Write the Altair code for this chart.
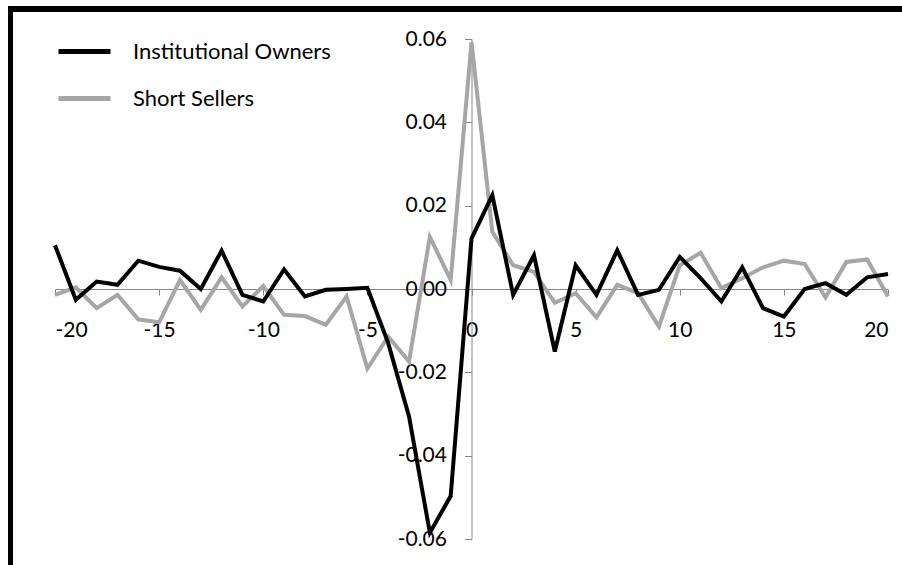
import altair as alt
import pandas as pd

# Event time (days relative to the event)
lags = list(range(-20, 21))

# Average daily change for each investor group
institutional_owners = [
    0.0105, -0.0026, 0.0018, 0.0010, 0.0068, 0.0053, 0.0044, 0.0000, 0.0092, -0.0014,
    -0.0030, 0.0047, -0.0018, -0.0002, 0.0000, 0.0003, -0.0130, -0.0306, -0.0585, -0.0497,
    0.0121, 0.0225, -0.0014, 0.0081, -0.0150, 0.0057, -0.0014, 0.0093, -0.0014, -0.0002,
    0.0077, 0.0026, -0.0030, 0.0052, -0.0046, -0.0066, 0.0000, 0.0014, -0.0014, 0.0028,
    0.0036,
]
short_sellers = [
    -0.0014, 0.0004, -0.0046, -0.0014, -0.0073, -0.0080, 0.0022, -0.0050, 0.0028, -0.0042,
    0.0007, -0.0062, -0.0065, -0.0086, -0.0018, -0.0191, -0.0114, -0.0174, 0.0125, 0.0022,
    0.0592, 0.0137, 0.0057, 0.0041, -0.0033, -0.0010, -0.0068, 0.0010, -0.0010, -0.0090,
    0.0057, 0.0087, 0.0002, 0.0026, 0.0052, 0.0068, 0.0060, -0.0020, 0.0065, 0.0071,
    -0.0018,
]

series_names = ["Institutional Owners", "Short Sellers"]
series_colors = ["#000000", "#a6a6a6"]
x_ticks = [-20, -15, -10, -5, 0, 5, 10, 15, 20]
y_ticks = [-0.06, -0.04, -0.02, 0.0, 0.02, 0.04, 0.06]

inst_df = pd.DataFrame({"lag": lags, "value": institutional_owners, "series": series_names[0]})
short_df = pd.DataFrame({"lag": lags, "value": short_sellers, "series": series_names[1]})

FONT = "Lato"
AXIS_GRAY = "#868686"
W, H = 833, 500

x_enc = alt.X(
    "lag:Q",
    scale=alt.Scale(domain=[-20, 20], nice=False, zero=False),
    axis=alt.Axis(
        values=x_ticks,
        offset=-H / 2,
        grid=False,
        title=None,
        domainColor=AXIS_GRAY,
        tickColor=AXIS_GRAY,
        tickSize=6,
        labelFontSize=21,
        labelFont=FONT,
        labelColor="#000000",
        labelPadding=24,
        labelExpr="datum.value < 0 ? '-' + abs(datum.value) : '' + datum.value",
    ),
)
y_enc = alt.Y(
    "value:Q",
    scale=alt.Scale(domain=[-0.06, 0.06], nice=False, zero=False),
    axis=alt.Axis(
        values=y_ticks,
        offset=-W / 2,
        grid=False,
        title=None,
        domainColor=AXIS_GRAY,
        tickColor=AXIS_GRAY,
        tickSize=7,
        labelFontSize=21,
        labelFont=FONT,
        labelColor="#000000",
        labelPadding=18,
        labelExpr="datum.value < 0 ? '-' + format(abs(datum.value), '.2f') : format(datum.value, '.2f')",
    ),
)
color_enc = alt.Color(
    "series:N",
    scale=alt.Scale(domain=series_names, range=series_colors),
    legend=alt.Legend(
        title=None,
        orient="none",
        legendX=1,
        legendY=-16,
        symbolType="stroke",
        symbolSize=2704,
        symbolStrokeWidth=5,
        labelFontSize=22,
        labelFont=FONT,
        labelColor="#000000",
        labelOffset=20,
        labelLimit=400,
        rowPadding=7,
    ),
)

short_line = alt.Chart(short_df).mark_line(strokeWidth=4).encode(x=x_enc, y=y_enc, color=color_enc)
inst_line = alt.Chart(inst_df).mark_line(strokeWidth=4).encode(x=x_enc, y=y_enc, color=color_enc)

# Frame lines along the top and left edges of the figure
frame_df = pd.DataFrame({"k": [0]})
top_edge = alt.Chart(frame_df).mark_rule(color="#000000", strokeWidth=6).encode(
    x=alt.value(-47), x2=alt.value(W + 20), y=alt.value(-30)
)
left_edge = alt.Chart(frame_df).mark_rule(color="#000000", strokeWidth=5).encode(
    x=alt.value(-44.5), y=alt.value(-33), y2=alt.value(H + 30)
)

chart = (
    alt.layer(short_line, inst_line, top_edge, left_edge)
    .properties(
        width=W,
        height=H,
        autosize=alt.AutoSizeParams(type="none"),
        padding={"left": 55, "top": 39, "right": 14, "bottom": 26},
        background="#ffffff",
    )
    .configure_view(stroke=None)
)

chart.save("out.html", embed_options={"renderer": "svg", "actions": False})
